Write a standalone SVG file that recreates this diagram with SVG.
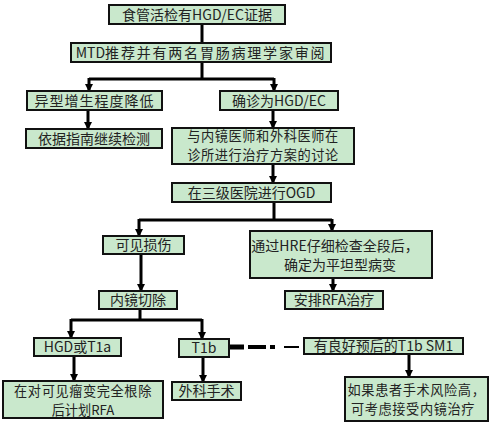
<svg xmlns="http://www.w3.org/2000/svg" width="491" height="425" viewBox="0 0 491 425">
<defs>
<style>
.box{fill:#c9e8cc;stroke:#111;stroke-width:2}
.t{font-family:"Noto Sans CJK SC","Noto Sans",sans-serif;font-size:14px;fill:#222;text-anchor:middle}
.t2{font-size:13.2px}
.c{fill:none;stroke:#000;stroke-width:3}
</style>
<marker id="ad" markerUnits="userSpaceOnUse" markerWidth="8" markerHeight="8" refX="7" refY="4" orient="auto" viewBox="0 0 8 8">
<path d="M0,0 L8,4 L0,8 z" fill="#000"/>
</marker>
</defs>
<rect width="491" height="425" fill="#fff"/>
<g id="connectors">
<path class="c" d="M202,24 V43"/>
<path class="c" d="M202,62 V79 M89,79 H274"/>
<path class="c" d="M89,78 V91" marker-end="url(#ad)"/>
<path class="c" d="M274,78 V91" marker-end="url(#ad)"/>
<path class="c" d="M88,110 V129" marker-end="url(#ad)"/>
<path class="c" d="M273,110 V128" marker-end="url(#ad)"/>
<path class="c" d="M273,164 V183" marker-end="url(#ad)"/>
<path class="c" d="M274,202 V220 M139,220 H332"/>
<path class="c" d="M139,219 V236" marker-end="url(#ad)"/>
<path class="c" d="M332,219 V231" marker-end="url(#ad)"/>
<path class="c" d="M141,254 V291" marker-end="url(#ad)"/>
<path class="c" d="M333,278 V291" stroke-width="4" marker-end="url(#ad)"/>
<path class="c" d="M140,309 V320 M71,320 H202" stroke-width="2.5"/>
<path class="c" d="M71,319 V338" marker-end="url(#ad)"/>
<path class="c" d="M202,319 V339" marker-end="url(#ad)"/>
<path class="c" d="M74,356 V381" marker-end="url(#ad)"/>
<path class="c" d="M203,357 V382" marker-end="url(#ad)"/>
<path class="c" d="M409,354 V377" marker-end="url(#ad)"/>
<path d="M229,347 H244" stroke="#000" stroke-width="5"/>
<path d="M248,347 H266" stroke="#000" stroke-width="4"/>
<path d="M270,347 H275" stroke="#000" stroke-width="4"/>
<path d="M284,347 H299" stroke="#000" stroke-width="2"/>
</g>
<g id="n1"><rect class="box" x="109" y="5" width="176" height="19"/><text class="t" x="197" y="20">食管活检有HGD/EC证据</text></g>
<g id="n2"><rect class="box" x="71" y="43" width="260" height="19"/><text class="t" x="201" y="58">MTD<tspan letter-spacing="1.8">推荐并有两名胃肠病理学家审阅</tspan></text></g>
<g id="n3"><rect class="box" x="27" y="91" width="135" height="19"/><text class="t" x="94.5" y="106" letter-spacing="1">异型增生程度降低</text></g>
<g id="n4"><rect class="box" x="220" y="91" width="118" height="19"/><text class="t" x="279" y="106">确诊为HGD/EC</text></g>
<g id="n5"><rect class="box" x="26" y="129" width="136" height="19"/><text class="t" x="94" y="144">依据指南继续检测</text></g>
<g id="n6"><rect class="box" x="172" y="128" width="182" height="36"/><text class="t t2" x="263" y="141" letter-spacing="0.6">与内镜医师和外科医师在</text><text class="t t2" x="263" y="160" letter-spacing="0.6">诊所进行治疗方案的讨论</text></g>
<g id="n7"><rect class="box" x="172" y="183" width="159" height="19"/><text class="t" x="251.5" y="198">在三级医院进行OGD</text></g>
<g id="n8"><rect class="box" x="103" y="236" width="81" height="18"/><text class="t" x="143.5" y="250">可见损伤</text></g>
<g id="n9"><rect class="box" x="250" y="231" width="182" height="47"/><text class="t" x="335" y="251">通过HRE仔细检查全段后，</text><text class="t" x="340" y="270">确定为平坦型病变</text></g>
<g id="n10"><rect class="box" x="99" y="291" width="78" height="18"/><text class="t" x="138" y="305">内镜切除</text></g>
<g id="n11"><rect class="box" x="285" y="291" width="98" height="18"/><text class="t" x="334" y="305">安排RFA治疗</text></g>
<g id="n12"><rect class="box" x="34" y="338" width="87" height="18"/><text class="t" x="77.5" y="352">HGD或T1a</text></g>
<g id="n13"><rect class="box" x="179" y="339" width="50" height="18"/><text class="t" x="204" y="353">T1b</text></g>
<g id="n14"><rect class="box" x="304" y="338" width="159" height="16"/><text class="t" x="383.5" y="351">有良好预后的T1b SM1</text></g>
<g id="n15"><rect class="box" x="345" y="377" width="143" height="44"/><text class="t t2" x="416.5" y="395" letter-spacing="0.6">如果患者手术风险高，</text><text class="t t2" x="413" y="414" letter-spacing="0.6">可考虑接受内镜治疗</text></g>
<g id="n16"><rect class="box" x="3" y="381" width="160" height="37"/><text class="t t2" x="83" y="395.5" letter-spacing="0.6">在对可见瘤变完全根除</text><text class="t t2" x="83" y="414.5">后计划RFA</text></g>
<g id="n17"><rect class="box" x="172" y="382" width="69" height="18"/><text class="t" x="206.5" y="396">外科手术</text></g>
</svg>
